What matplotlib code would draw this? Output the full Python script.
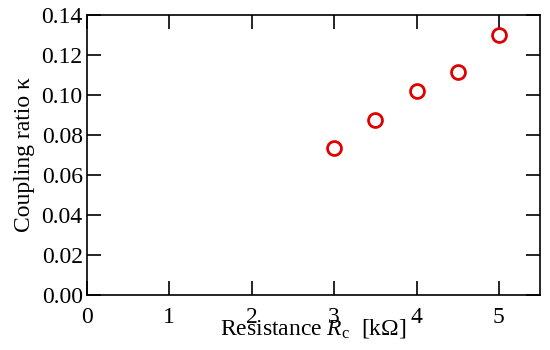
import matplotlib
matplotlib.use("Agg")
import matplotlib.pyplot as plt

resistance = [3.0, 3.5, 4.0, 4.5, 5.0]
coupling = [0.0737, 0.0875, 0.1022, 0.1117, 0.1300]
xticks = [0, 1, 2, 3, 4, 5]
yticks = [0.00, 0.02, 0.04, 0.06, 0.08, 0.10, 0.12, 0.14]

plt.rcParams['font.family'] = ['Liberation Serif', 'DejaVu Serif']
plt.rcParams['mathtext.fontset'] = 'custom'
plt.rcParams['mathtext.rm'] = 'Liberation Serif'
plt.rcParams['mathtext.it'] = 'Liberation Serif:italic'

fig = plt.figure(figsize=(5.5, 3.5), dpi=100)
ax = fig.add_axes([0.158, 0.157, 0.824, 0.8])
ax.plot(resistance, coupling, 'o', markerfacecolor='none', markeredgecolor='#e00000',
        markersize=10, markeredgewidth=2.0, linestyle='none')
ax.set_xlim(0, 5.5)
ax.set_ylim(0, 0.14)
ax.set_xticks(xticks)
ax.set_xticklabels([str(t) for t in xticks])
ax.set_yticks(yticks)
ax.set_yticklabels([f"{t:.2f}" for t in yticks])
ax.tick_params(direction='in', length=10, width=1.2, top=True, right=True,
               labelsize=17, colors='black')
ax.tick_params(axis='x', pad=8.5)
ax.tick_params(axis='y', pad=3)
for s in ax.spines.values():
    s.set_linewidth(1.2)
ax.set_xlabel(r"Resistance $R_\mathrm{c}$  [k$\Omega$]", fontsize=17, labelpad=-7.5)
ax.set_ylabel("Coupling ratio κ", fontsize=17, labelpad=5)
fig.savefig("out.png", dpi=100)
